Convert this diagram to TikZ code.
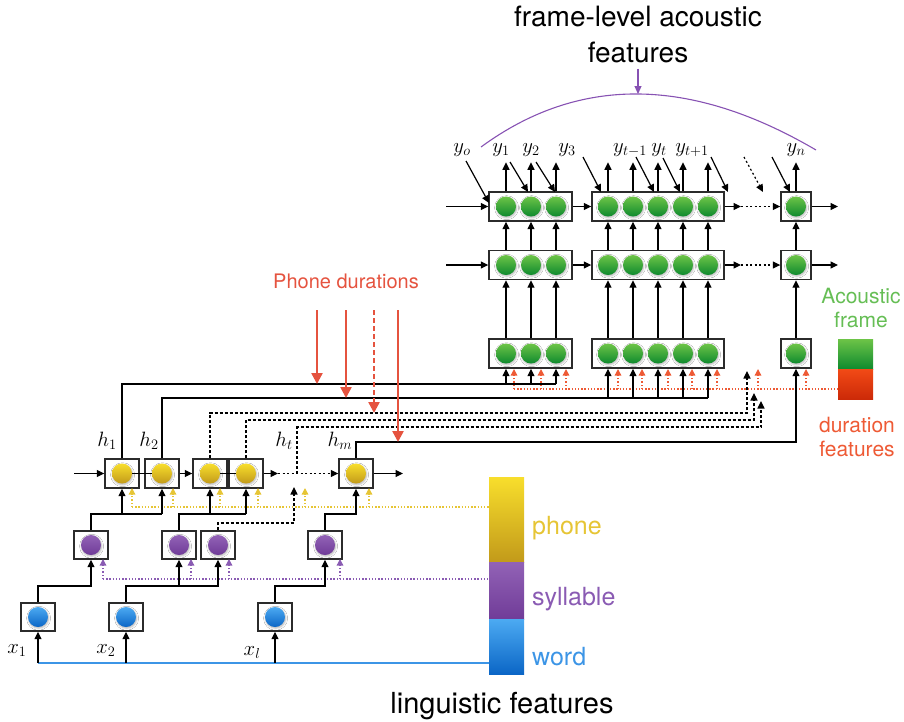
\documentclass[tikz,border=0pt]{standalone}
\usepackage{fontspec}
\setmainfont{TeX Gyre Heros}
\usetikzlibrary{arrows.meta,shadows.blur}

\definecolor{greentop}{HTML}{6DC447}
\definecolor{greenbot}{HTML}{0E8A2E}
\definecolor{yellowtop}{HTML}{F8DE2C}
\definecolor{yellowbot}{HTML}{C29A1A}
\definecolor{purpletop}{HTML}{9262B6}
\definecolor{purplebot}{HTML}{703C98}
\definecolor{bluetop}{HTML}{4CAAF2}
\definecolor{bluebot}{HTML}{0B66C6}
\definecolor{redtop}{HTML}{F24A16}
\definecolor{redbot}{HTML}{CC2A08}
\definecolor{durred}{HTML}{E5533F}
\definecolor{durorange}{HTML}{EE5A35}
\definecolor{phonecol}{HTML}{E6C535}
\definecolor{sylcol}{HTML}{8A5BB3}
\definecolor{wordcol}{HTML}{3C95E6}
\definecolor{acgreen}{HTML}{66BE55}
\definecolor{arcpurple}{HTML}{8752B3}
\definecolor{boxgrey}{HTML}{2B2B2B}

\tikzset{
  unit/.style={draw=boxgrey, line width=1.4pt, fill=white, inner sep=0pt, minimum height=29pt},
  ball/.style={circle, inner sep=0pt, minimum size=20pt,
    blur shadow={shadow xshift=0.6pt, shadow yshift=-1.2pt, shadow blur radius=2pt, shadow opacity=30}},
  gball/.style={ball, top color=greentop, bottom color=greenbot},
  yball/.style={ball, top color=yellowtop, bottom color=yellowbot},
  pball/.style={ball, top color=purpletop, bottom color=purplebot},
  bball/.style={ball, top color=bluetop, bottom color=bluebot},
  bar/.style={inner sep=0pt, minimum width=35pt},
  arr/.style={line width=1.2pt, -{Triangle[length=7.5pt,width=7pt]}},
  link/.style={line width=1.2pt},
  dlink/.style={line width=1.1pt, dash pattern=on 3pt off 2pt},
  darr/.style={dlink, -{Triangle[length=7.5pt,width=7pt]}},
  dotarr/.style={line width=1.2pt, dash pattern=on 2pt off 2.5pt, -{Triangle[length=7.5pt,width=7pt]}},
  featdot/.style={line width=1.3pt, dash pattern=on 1.3pt off 1.9pt},
  featarr/.style={featdot, -{Triangle[length=6.5pt,width=6.5pt]}},
  lab/.style={inner sep=0pt, anchor=base, font=\fontsize{21}{24}\selectfont},
  durarrow/.style={draw=durred, line width=2.4pt, -{Triangle[length=11pt,width=11pt]}},
}

\begin{document}
\begin{tikzpicture}[x=1pt, y=-1pt]
\useasboundingbox (0,0) rectangle (904,721);
\pgfmathsetmacro{\rowone}{206.5}
\pgfmathsetmacro{\rowtwo}{265}
\pgfmathsetmacro{\rowthree}{353.5}
\pgfmathsetmacro{\rowh}{473.5}
\pgfmathsetmacro{\rowsyl}{545}
\pgfmathsetmacro{\rowword}{617}
\pgfmathsetmacro{\sylbus}{514}
\pgfmathsetmacro{\wordbus}{586}

% frame-level acoustic layers
\foreach \r/\yy in {1/\rowone, 2/\rowtwo, 3/\rowthree} {
  \node[unit, minimum width=83pt] (fa\r) at (530.5,\yy) {};
  \node[unit, minimum width=132pt] (fb\r) at (658,\yy) {};
  \node[unit, minimum width=30pt] (fc\r) at (796,\yy) {};
  \foreach \xx [count=\i] in {506,531,556,608,633,658,683,708,796}
    \node[gball] (g\r-\i) at (\xx,\yy) {};
}
\foreach \i in {1,...,9} {
  \draw[arr] (g3-\i |- fa3.north) -- (g2-\i |- fa2.south);
  \draw[arr] (g2-\i |- fa2.north) -- (g1-\i |- fa1.south);
  \draw[arr] (g1-\i |- fa1.north) -- ++(0,-29);
}
\foreach \r/\yy in {1/\rowone, 2/\rowtwo} {
  \coordinate (in\r) at (446,\yy);
  \coordinate (gap\r) at (741,\yy);
  \coordinate (out\r) at (838,\yy);
  \draw[arr] (in\r) -- (fa\r.west);
  \draw[arr] (fa\r.east) -- (fb\r.west);
  \draw[arr] (fb\r.east) -- (gap\r);
  \draw[dotarr] (gap\r) -- (fc\r.west);
  \draw[arr] (fc\r.east) -- (out\r);
}

% outputs y
\foreach \nm/\tx/\lx in {yo/y_o/462, y1/y_1/501, y2/y_2/531, y3/y_3/567, ytm/y_{t-1}/630, yt/y_t/659, ytp/y_{t+1}/692, yn/y_n/796}
  \node[lab] (\nm) at (\lx,152) {$\tx$};
\foreach \sx/\sy/\ex/\ey in {466/161/489/203, 510/162/528/192, 536/162/555/192, 583/157/601/192, 636/157/654/192, 663/158/680/192, 711/157/728/192, 772/157/790/192}
  \draw[arr] (\sx,\sy) -- (\ex,\ey);
\draw[dotarr] (744,157) -- (763,192);

\coordinate (arcl) at (481,147);
\coordinate (arcr) at (816,150);
\coordinate (arctop) at (638,94);
\draw[arcpurple, line width=1.1pt] (arcl) .. controls (578.7,75.3) and (690.3,76.3) .. (arcr);
\node[font=\fontsize{28}{36}\selectfont, align=center, inner sep=0pt] (title) at (638,34) {frame-level acoustic\\features};
\draw[arcpurple, line width=1.1pt, -{Triangle[length=8pt,width=7pt]}] (title.south) ++(0,6) -- (arctop);

% phone layer
\foreach \nm/\xx in {h1/122, h2/162, h3/210, h4/246, hm/356}
  \node[unit, minimum width=34pt] (\nm) at (\xx,\rowh) {};
\draw[link] (h1.center) -- (h2.center);
\draw[link] (h3.center) -- (h4.center);
\foreach \nm in {h1,h2,h3,h4,hm}
  \node[yball] (\nm-b) at (\nm) {};
\coordinate (hin) at (74,\rowh);
\coordinate (hgap) at (278,\rowh);
\coordinate (hout) at (403,\rowh);
\coordinate (htl) at (297,\rowh);
\draw[arr] (hin) -- (h1.west);
\draw[arr] (h2.east) -- (h3.west);
\draw[arr] (h4.east) -- (hgap);
\draw[dotarr] (hgap) -- (hm.west);
\draw[arr] (hm.east) -- (hout);
\node[lab] (lh1) at (107,446) {$h_1$};
\node[lab] (lh2) at (149,446) {$h_2$};
\node[lab] (lht) at (284,446) {$h_t$};
\node[lab] (lhm) at (340,446) {$h_m$};

% phone -> frame connections
\coordinate (bus1) at (556,384);
\coordinate (bus2) at (708,398);
\coordinate (bus3) at (747,413);
\coordinate (bus4) at (754,420);
\coordinate (bus5) at (761,427);
\coordinate (bus6) at (796,442);
\coordinate (tip3) at (747,371);
\coordinate (tip4) at (754,393);
\coordinate (tip5) at (761,401);

% duration features
\node[bar, minimum height=30pt, top color=greentop, bottom color=greenbot] (acbar) at (855.5,354) {};
\node[bar, minimum height=30pt, top color=redtop, bottom color=redbot] (durbar) at (855.5,384) {};
\coordinate (durl) at (514,389);
\draw[featdot, durorange] (durl) -- (durbar.west |- durl);
\foreach \xx in {514,541,566,618,642,668,692,717,758,806}
  \draw[featarr, durorange] (\xx,389) -- (\xx,369);

\draw[link] (h1.north) |- (bus1);
\foreach \i in {1,2,3} \draw[arr] (g3-\i |- bus1) -- (g3-\i |- fa3.south);
\draw[link] (h2.north) |- (bus2);
\foreach \i in {4,...,8} \draw[arr] (g3-\i |- bus2) -- (g3-\i |- fa3.south);
\draw[darr] (h3.north) |- (bus3) -- (tip3);
\draw[darr] (h4.north) |- (bus4) -- (tip4);
\draw[darr] (htl) |- (bus5) -- (tip5);
\draw[arr] (hm.north) |- (bus6) -- (fc3.south);

\foreach \k/\xx/\bb in {1/317/bus1, 2/346/bus2, 4/398/bus6} {
  \coordinate (pd\k) at (\xx,310);
  \draw[durarrow] (pd\k) -- (pd\k |- \bb);
}
\coordinate (pd3) at (374,310);
\draw[durarrow, dash pattern=on 5pt off 3pt] (pd3) -- (pd3 |- bus3);
\node[font=\fontsize{20}{24}\selectfont, text=durred, anchor=base, inner sep=0pt] (pdlabel) at (346,288) {Phone durations};

\node[font=\fontsize{21}{24}\selectfont, text=acgreen, align=center, inner sep=0pt] (aclabel) at (861,307.5) {Acoustic\\frame};
\node[font=\fontsize{21}{24}\selectfont, text=durorange, align=center, inner sep=0pt] (durlabel) at (857,436.5) {duration\\features};

% syllable layer
\foreach \nm/\xx in {s1/91, s2/179, s3/218, s4/325} {
  \node[unit, minimum width=34pt, minimum height=28pt] (\nm) at (\xx,\rowsyl) {};
  \node[pball] (\nm-b) at (\nm) {};
}
% word layer
\foreach \nm/\xx in {w1/38, w2/126, w3/275} {
  \node[unit, minimum width=34pt, minimum height=28pt] (\nm) at (\xx,\rowword) {};
  \node[bball] (\nm-b) at (\nm) {};
}

% linguistic feature legend
\node[bar, minimum height=85pt, top color=yellowtop, bottom color=yellowbot] (phonebar) at (506.5,519.5) {};
\node[bar, minimum height=57pt, top color=purpletop, bottom color=purplebot] (sylbar) at (506.5,590.5) {};
\node[bar, minimum height=55pt, top color=bluetop, bottom color=bluebot] (wordbar) at (506.5,646.5) {};
\node[font=\fontsize{25}{28}\selectfont, text=phonecol, anchor=base west, inner sep=0pt] (phonelab) at (532,534) {phone};
\node[font=\fontsize{25}{28}\selectfont, text=sylcol, anchor=base west, inner sep=0pt] (syllab) at (532,605) {syllable};
\node[font=\fontsize{25}{28}\selectfont, text=wordcol, anchor=base west, inner sep=0pt] (wordlab) at (532,665) {word};
\node[font=\fontsize{29}{32}\selectfont, anchor=base, inner sep=0pt] (lingtitle) at (502,713) {linguistic features};

\coordinate (phl) at (132,507);
\draw[featdot, phonecol] (phl) -- (phonebar.west |- phl);
\foreach \xx in {132,173,220,258,305,369}
  \draw[featarr, phonecol] (\xx,507) -- (\xx,488);
\coordinate (syl) at (103,579);
\draw[featdot, sylcol] (syl) -- (sylbar.west |- syl);
\foreach \xx in {103,191,229,340}
  \draw[featarr, sylcol] (\xx,579) -- (\xx,559);

% syllable -> phone
\draw[link] (s1.north) |- (h2.south |- 0,\sylbus);
\draw[arr] (h1.south |- 0,\sylbus) -- (h1.south);
\draw[arr] (h2.south |- 0,\sylbus) -- (h2.south);
\draw[link] (s2.north) |- (h4.south |- 0,\sylbus);
\draw[arr] (h3.south |- 0,\sylbus) -- (h3.south);
\draw[arr] (h4.south |- 0,\sylbus) -- (h4.south);
\coordinate (sbend) at (294,523);
\coordinate (stip) at (294,487);
\draw[darr] (s3.north) |- (sbend) -- (stip);
\draw[arr] (s4.north) |- (hm.south |- 0,\sylbus) -- (hm.south);

% word -> syllable
\draw[arr] (w1.north) |- (s1.south |- 0,\wordbus) -- (s1.south);
\draw[arr] (w2.north) |- (s3.south |- 0,\wordbus) -- (s3.south);
\draw[arr] (s2.south |- 0,\wordbus) -- (s2.south);
\draw[arr] (w3.north) |- (s4.south |- 0,\wordbus) -- (s4.south);

% inputs x
\draw[wordcol, line width=1.3pt] (w1.south |- 0,663) -- (wordbar.west |- 0,663);
\foreach \nm in {w1,w2,w3}
  \draw[arr] (\nm.south |- 0,663) -- (\nm.south);
\node[lab] (lx1) at (17,653) {$x_1$};
\node[lab] (lx2) at (106,653) {$x_2$};
\node[lab] (lxl) at (252,655) {$x_l$};
\end{tikzpicture}
\end{document}
